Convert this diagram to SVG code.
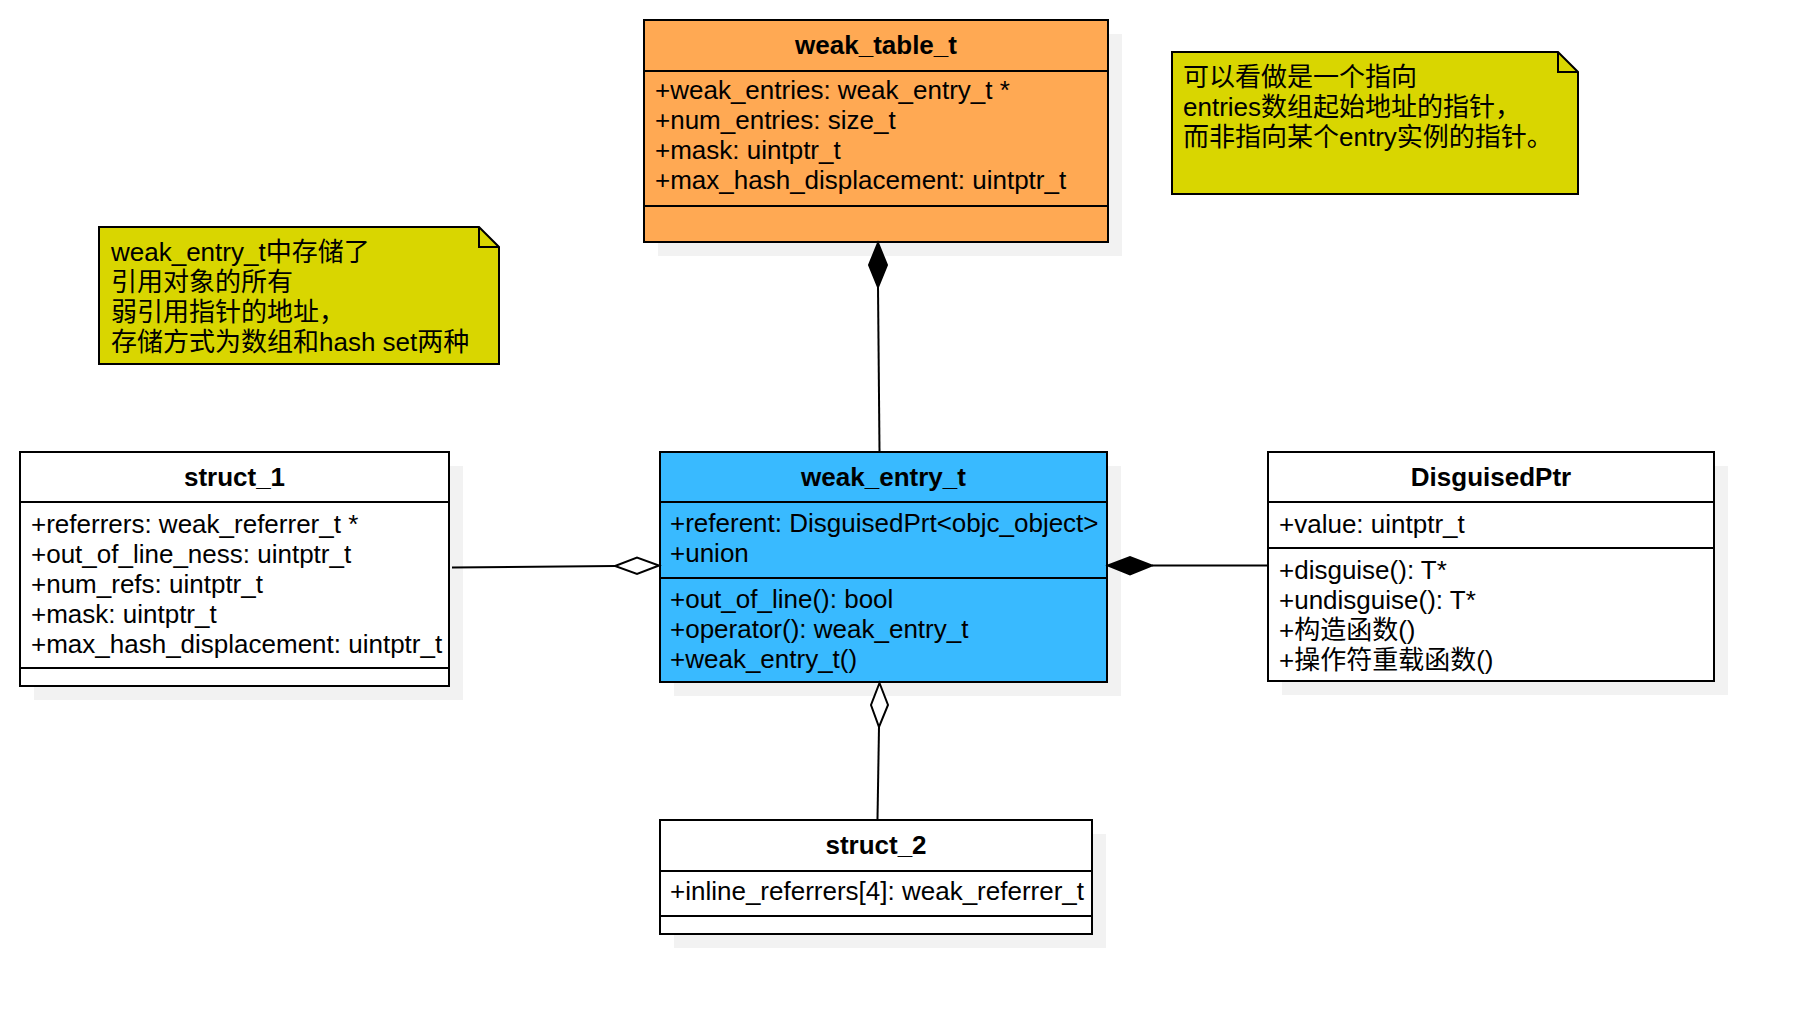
<svg xmlns="http://www.w3.org/2000/svg" width="1794" height="1014" viewBox="0 0 1794 1014">
<style>
text{font-family:"Liberation Sans","Noto Sans CJK SC",Arial,sans-serif;font-size:26px;fill:#000}
.t{font-weight:bold;text-anchor:middle}
.box{stroke:#000;stroke-width:2}
.sh{fill:#f2f2f2}
.sep{stroke:#000;stroke-width:2;fill:none}
.note{fill:#d9d600;stroke:#000;stroke-width:2}
.ln{stroke:#000;stroke-width:2;fill:none}
</style>
<rect x="0" y="0" width="1794" height="1014" fill="#fff"/>

<g id="weak_table_t">
<rect class="sh" x="658" y="34" width="464" height="222"/>
<rect class="box" x="644" y="20" width="464" height="222" fill="#ffa953"/>
<line class="sep" x1="644" y1="71" x2="1108" y2="71"/>
<line class="sep" x1="644" y1="206" x2="1108" y2="206"/>
<text class="t" x="876" y="54">weak_table_t</text>
<text x="655" y="99">+weak_entries: weak_entry_t *</text>
<text x="655" y="129">+num_entries: size_t</text>
<text x="655" y="159">+mask: uintptr_t</text>
<text x="655" y="189">+max_hash_displacement: uintptr_t</text>
</g>

<g id="note_right">
<path class="note" d="M1172,52 H1558 L1578,72 V194 H1172 Z"/>
<path class="ln" d="M1558,52 V72 H1578"/>
<text x="1183" y="86">可以看做是一个指向</text>
<text x="1183" y="116">entries数组起始地址的指针，</text>
<text x="1183" y="146">而非指向某个entry实例的指针。</text>
</g>

<g id="note_left">
<path class="note" d="M99,227 H479 L499,247 V364 H99 Z"/>
<path class="ln" d="M479,227 V247 H499"/>
<text x="111" y="261">weak_entry_t中存储了</text>
<text x="111" y="291">引用对象的所有</text>
<text x="111" y="321">弱引用指针的地址，</text>
<text x="111" y="351">存储方式为数组和hash set两种</text>
</g>

<g id="struct_1">
<rect class="sh" x="34" y="466" width="429" height="234"/>
<rect class="box" x="20" y="452" width="429" height="234" fill="#fff"/>
<line class="sep" x1="20" y1="502" x2="449" y2="502"/>
<line class="sep" x1="20" y1="668" x2="449" y2="668"/>
<text class="t" x="234.5" y="486">struct_1</text>
<text x="31" y="533">+referrers: weak_referrer_t *</text>
<text x="31" y="563">+out_of_line_ness: uintptr_t</text>
<text x="31" y="593">+num_refs: uintptr_t</text>
<text x="31" y="623">+mask: uintptr_t</text>
<text x="31" y="653">+max_hash_displacement: uintptr_t</text>
</g>

<g id="weak_entry_t">
<rect class="sh" x="674" y="466" width="447" height="230"/>
<rect class="box" x="660" y="452" width="447" height="230" fill="#39baff"/>
<line class="sep" x1="660" y1="502" x2="1107" y2="502"/>
<line class="sep" x1="660" y1="578" x2="1107" y2="578"/>
<text class="t" x="883.5" y="486">weak_entry_t</text>
<text x="670" y="532">+referent: DisguisedPrt&lt;objc_object&gt;</text>
<text x="670" y="562">+union</text>
<text x="670" y="608">+out_of_line(): bool</text>
<text x="670" y="638">+operator(): weak_entry_t</text>
<text x="670" y="668">+weak_entry_t()</text>
</g>

<g id="DisguisedPtr">
<rect class="sh" x="1282" y="466" width="446" height="229"/>
<rect class="box" x="1268" y="452" width="446" height="229" fill="#fff"/>
<line class="sep" x1="1268" y1="502" x2="1714" y2="502"/>
<line class="sep" x1="1268" y1="548" x2="1714" y2="548"/>
<text class="t" x="1491" y="486">DisguisedPtr</text>
<text x="1279" y="533">+value: uintptr_t</text>
<text x="1279" y="579">+disguise(): T*</text>
<text x="1279" y="609">+undisguise(): T*</text>
<text x="1279" y="639">+构造函数()</text>
<text x="1279" y="669">+操作符重载函数()</text>
</g>

<g id="struct_2">
<rect class="sh" x="674" y="834" width="432" height="114"/>
<rect class="box" x="660" y="820" width="432" height="114" fill="#fff"/>
<line class="sep" x1="660" y1="871" x2="1092" y2="871"/>
<line class="sep" x1="660" y1="916" x2="1092" y2="916"/>
<text class="t" x="876" y="854">struct_2</text>
<text x="670" y="900">+inline_referrers[4]: weak_referrer_t</text>
</g>

<g id="connectors">
<line class="ln" x1="878" y1="287" x2="879.5" y2="451"/>
<path d="M878,243 L887,265 L878,287 L869,265 Z" fill="#000" stroke="#000" stroke-width="2"/>

<line class="ln" x1="452" y1="567.5" x2="615" y2="566"/>
<path d="M659,565.5 L637,574 L615,566 L637,557.5 Z" fill="#fff" stroke="#000" stroke-width="2"/>

<line class="ln" x1="1152" y1="565.5" x2="1267" y2="565.5"/>
<path d="M1108,565.5 L1130,557 L1152,565.5 L1130,574.5 Z" fill="#000" stroke="#000" stroke-width="2"/>

<line class="ln" x1="879" y1="727" x2="877.5" y2="819"/>
<path d="M879.5,683 L888,705 L879,727 L871,705 Z" fill="#fff" stroke="#000" stroke-width="2"/>
</g>
</svg>
